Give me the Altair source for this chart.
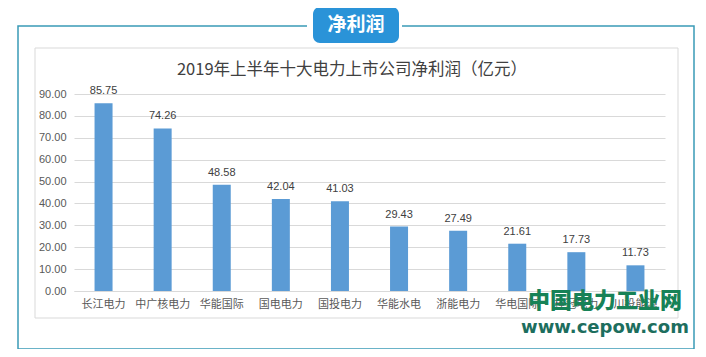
import altair as alt
import pandas as pd

companies = ["长江电力", "中广核电力", "华能国际", "国电电力", "国投电力",
             "华能水电", "浙能电力", "华电国际", "桂冠电力", "川投能源"]
profits = [85.75, 74.26, 48.58, 42.04, 41.03, 29.43, 27.49, 21.61, 17.73, 11.73]
y_ticks = [0, 10, 20, 30, 40, 50, 60, 70, 80, 90]
title_text = "2019年上半年十大电力上市公司净利润（亿元）"
badge_text = "净利润"
wm_cn = "中国电力工业网"
wm_url = "www.cepow.com"

df = pd.DataFrame({"company": companies, "profit": profits})

W, H = 591, 197
FONT = "Noto Sans CJK SC"

base = alt.Chart(df)

x_enc = alt.X("company:N", sort=companies,
              scale=alt.Scale(paddingInner=0.0, paddingOuter=0.0),
              axis=alt.Axis(title=None, labelAngle=0, labelFontSize=11,
                            labelColor="#595959", labelFont=FONT, ticks=False,
                            domainColor="#d9d9d9", labelPadding=7,
                            labelOverlap=False))
y_enc = alt.Y("profit:Q", scale=alt.Scale(domain=[0, 90], nice=False),
              axis=alt.Axis(title=None, values=y_ticks, format=".2f",
                            labelFontSize=11, labelColor="#595959",
                            labelFont="Liberation Sans", ticks=False,
                            domain=False, gridColor="#d9d9d9", labelPadding=8,
                            labelOverlap=False, tickCount=10))

bars = base.mark_bar(size=18, color="#5b9bd5").encode(x=x_enc, y=y_enc)
labels = base.mark_text(dy=-12, fontSize=11, color="#404040",
                        font="Liberation Sans").encode(
    x=x_enc, y=y_enc,
    text=alt.Text("profit:Q", format=".2f"))

one = alt.Chart(pd.DataFrame({"k": [0]}))

outer = one.mark_rect(fill=None, stroke="#3a9ab6", strokeWidth=1.5).encode(
    x=alt.value(-56), x2=alt.value(620), y=alt.value(-68), y2=alt.value(255))
inner = one.mark_rect(fill=None, stroke="#d9d9d9", strokeWidth=1).encode(
    x=alt.value(-39), x2=alt.value(604), y=alt.value(-46), y2=alt.value(224))
gap = one.mark_rect(fill="white").encode(
    x=alt.value(233), x2=alt.value(328), y=alt.value(-72), y2=alt.value(-64))
badge = one.mark_rect(fill="#2a93d8", cornerRadius=7).encode(
    x=alt.value(239), x2=alt.value(325), y=alt.value(-87), y2=alt.value(-51))
badge_t = one.mark_text(text=badge_text, color="white", fontSize=19,
                        fontWeight="bold", font=FONT, baseline="middle").encode(
    x=alt.value(282), y=alt.value(-69))
title = one.mark_text(text=title_text, color="#404040", fontSize=16.5,
                      font=FONT, baseline="middle").encode(
    x=alt.value(278), y=alt.value(-24))
wm1 = one.mark_text(text=wm_cn, color="#178257", fontSize=22, fontWeight=900,
                    font=FONT, baseline="middle").encode(
    x=alt.value(531), y=alt.value(207))
wm2 = one.mark_text(text=wm_url, color="#1d6e5e", fontSize=18, fontWeight="bold",
                    font="DejaVu Sans", baseline="middle").encode(
    x=alt.value(531), y=alt.value(234))

chart = alt.layer(outer, inner, gap, badge, badge_t, title, bars, labels, wm1, wm2).properties(
    width=W, height=H,
    padding={"left": 66, "top": 86, "right": 33, "bottom": 58},
    autosize=alt.AutoSizeParams(type="none"),
    background="white",
).configure_view(stroke=None)

chart.save("out.html", embed_options={"renderer": "svg", "actions": False})
